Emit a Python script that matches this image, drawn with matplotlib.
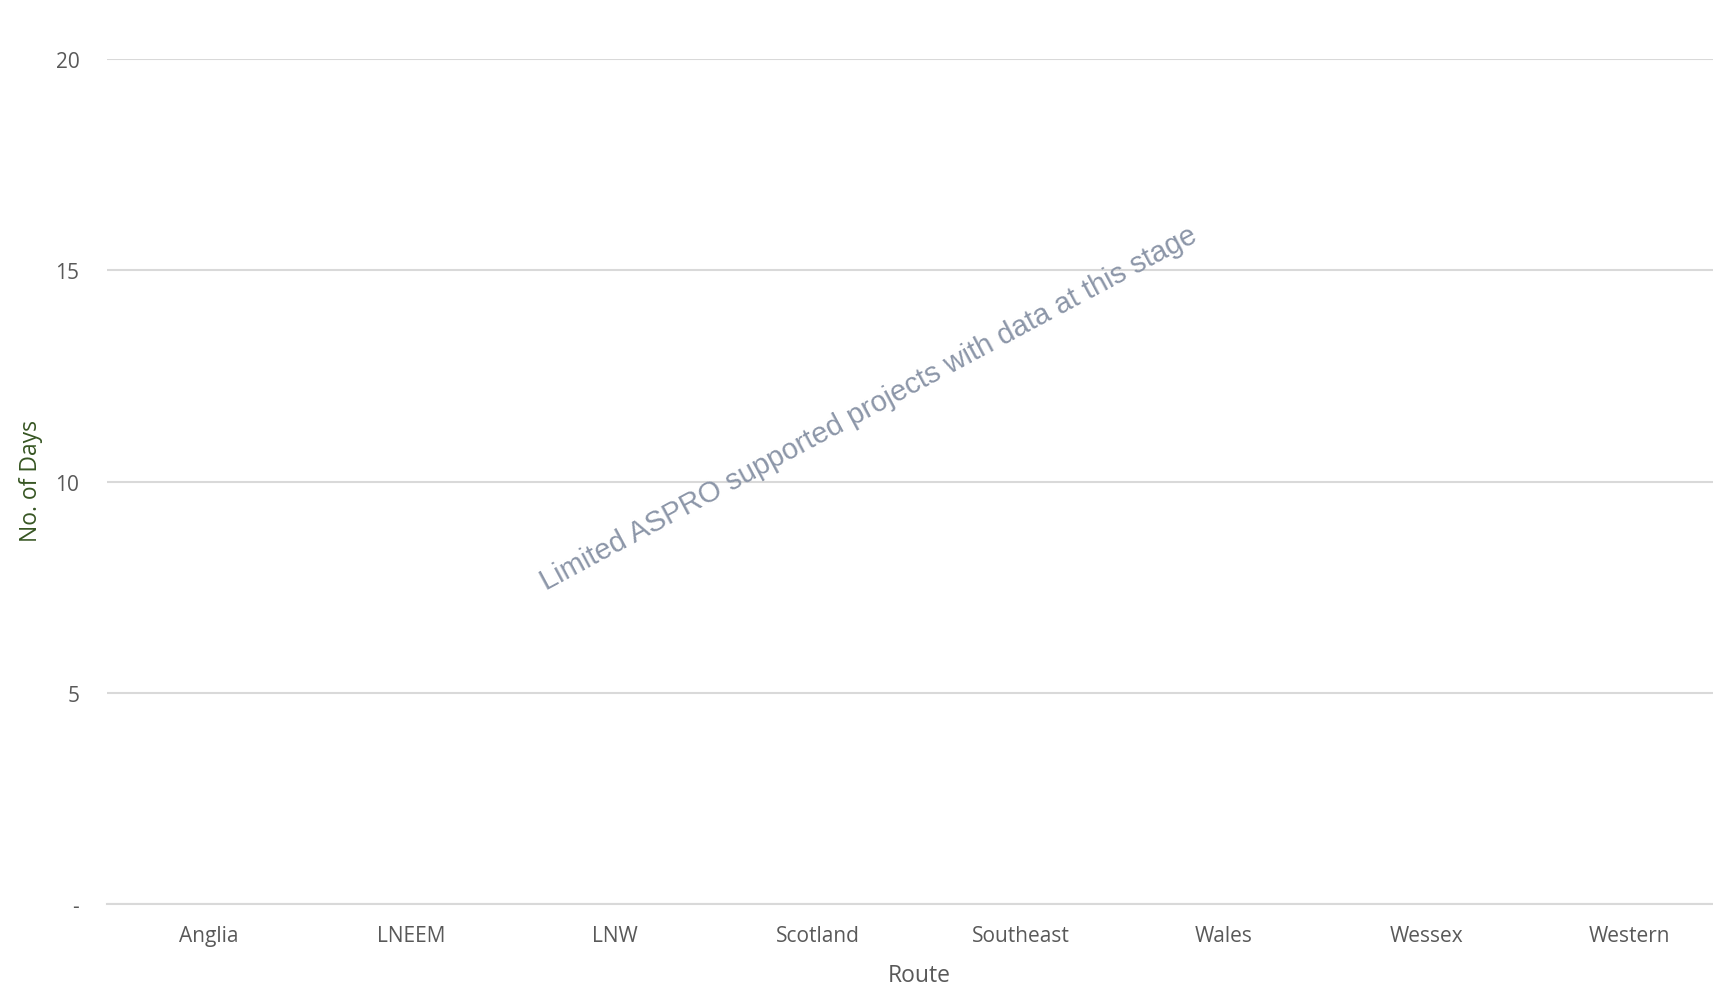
import matplotlib.pyplot as plt
from matplotlib.ticker import FuncFormatter

# Routes and days (no supported projects reported yet)
routes = ['Anglia', 'LNEEM', 'LNW', 'Scotland', 'Southeast', 'Wales', 'Wessex', 'Western']
days = [0, 0, 0, 0, 0, 0, 0, 0]
y_ticks = [0, 5, 10, 15, 20]

plt.rcParams['font.family'] = ['Open Sans', 'DejaVu Sans']

fig = plt.figure(figsize=(17.13, 9.87), dpi=100)
# plot area runs a little past the right edge of the canvas
ax = fig.add_axes([0.0625, 0.083, 0.948, 0.856])

ax.bar(range(len(routes)), days, width=0.6, color='#4472C4')

ax.set_xlim(-0.5, len(routes) - 0.5)
ax.set_ylim(0, 20)
ax.set_yticks(y_ticks)
# accounting style: zero shown as a dash
ax.yaxis.set_major_formatter(FuncFormatter(lambda v, p: '-' if v == 0 else f'{v:g}'))
ax.set_xticks(range(len(routes)))
ax.set_xticklabels(routes)

ax.grid(axis='y', color='#D9D9D9', linewidth=1.5)
ax.set_axisbelow(True)
for side in ['top', 'right', 'left']:
    ax.spines[side].set_visible(False)
ax.spines['bottom'].set_color('#D9D9D9')
ax.spines['bottom'].set_linewidth(1.5)

ax.tick_params(axis='both', length=0, labelsize=15, labelcolor='#595959')
ax.tick_params(axis='x', pad=15)
ax.tick_params(axis='y', pad=20)

ax.set_xlabel('Route', fontsize=16.5, color='#595959', va='center')
ax.xaxis.set_label_coords(0.5, -0.084)
ax.set_ylabel('No. of Days', fontsize=16.5, color='#375623', va='center')
ax.yaxis.set_label_coords(-0.047, 0.502)

ax.text(0.469, 0.587, 'Limited ASPRO supported projects with data at this stage',
        transform=ax.transAxes, rotation=28.2, rotation_mode='anchor',
        ha='center', va='center', fontsize=21, color='#8C96A8',
        family='Liberation Sans')

fig.savefig('out.png', dpi=100)
